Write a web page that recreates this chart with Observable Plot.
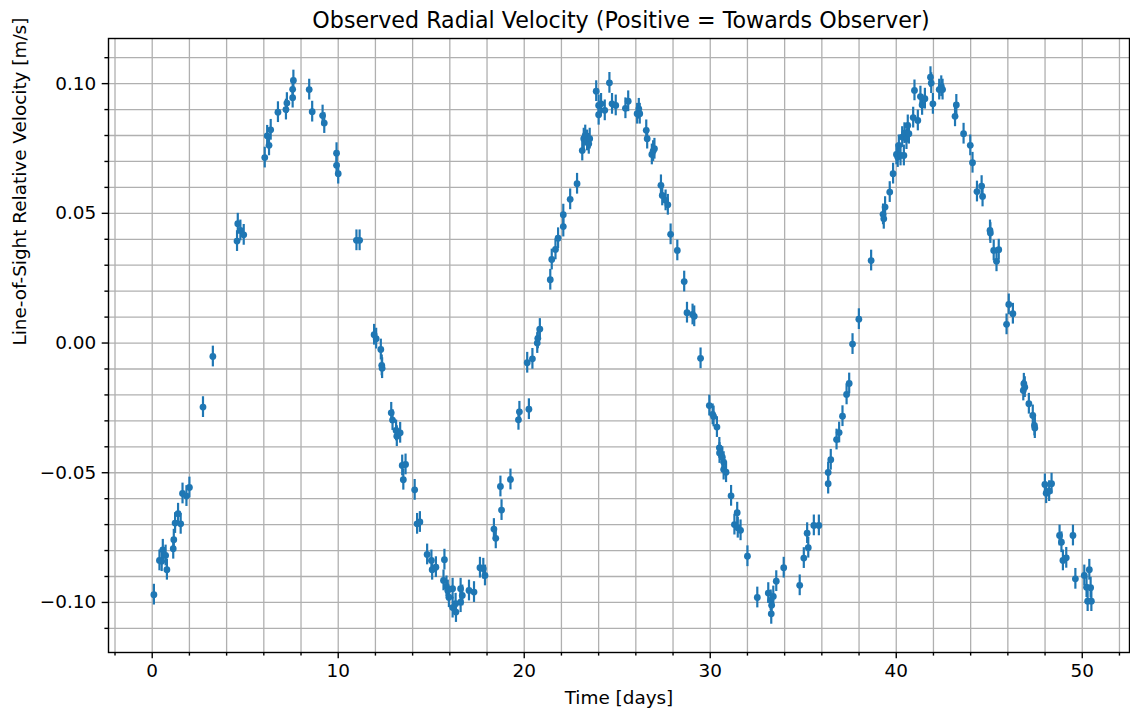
<!DOCTYPE html>
<html><head><meta charset="utf-8">
<script src="https://cdn.jsdelivr.net/npm/d3@7"></script>
<script src="https://cdn.jsdelivr.net/npm/@observablehq/plot@0.6"></script>
<style>
body{margin:0;background:#fff;font-family:"DejaVu Sans",sans-serif;}
#title{width:1130px;height:30px;box-sizing:border-box;padding:8px 0 0 112px;font-size:22.2px;line-height:24px;text-align:center;color:#000;white-space:nowrap;overflow:visible}
</style></head><body>
<div id="title">Observed Radial Velocity (Positive = Towards Observer)</div>
<div id="chart"></div>
<script>
const days = [0.09,0.39,0.51,0.57,0.72,0.79,1.13,1.16,1.23,1.39,1.53,1.63,1.84,2.0,2.73,3.26,4.56,4.6,4.74,4.92,
6.05,6.18,6.28,6.37,6.76,7.19,7.24,7.55,7.55,7.59,8.44,8.6,9.16,9.25,9.91,9.91,10.0,10.98,11.15,
11.93,12.04,12.29,12.34,12.36,12.85,12.92,13.11,13.15,13.33,13.44,13.5,13.62,14.11,14.24,14.39,14.78,15.01,15.05,15.25,
15.66,15.71,15.82,15.89,15.95,16.15,16.15,16.31,16.33,16.58,16.58,16.67,17.03,17.3,17.62,17.8,17.89,18.37,18.47,18.72,18.78,
19.26,19.69,19.74,20.16,20.25,20.44,20.7,20.73,20.84,21.4,21.48,21.68,21.82,22.1,22.1,22.47,22.84,
23.12,23.2,23.28,23.38,23.47,23.52,23.87,24.0,24.0,24.13,24.33,24.58,24.72,24.92,25.44,25.59,26.07,26.16,26.21,26.56,26.61,
26.86,26.93,27.0,27.35,27.42,27.6,27.72,27.87,28.23,28.6,28.75,29.05,29.14,29.48,29.95,30.13,30.18,30.36,30.49,30.5,30.65,
30.72,30.72,30.85,31.12,31.3,31.45,31.48,31.63,32.0,32.53,33.12,33.25,33.28,33.3,33.39,33.55,33.95,34.81,35.03,35.21,35.27,
35.57,35.84,36.34,36.34,36.48,36.79,36.93,37.11,37.33,37.47,37.65,37.99,38.65,39.29,39.33,39.4,39.65,39.83,40.01,40.08,
40.14,40.23,40.32,40.41,40.44,40.55,40.62,40.68,40.91,40.98,41.16,41.3,41.39,41.54,41.84,41.88,41.97,42.31,42.42,42.49,
43.16,43.23,43.62,43.98,44.1,44.34,44.59,44.64,45.04,45.06,45.24,45.39,45.51,45.93,46.05,46.27,46.83,46.86,46.91,47.13,
47.34,47.43,47.45,47.99,48.06,48.22,48.35,48.78,48.88,48.96,49.14,49.5,49.63,50.11,50.23,50.29,50.38,50.45,50.49];
const velocities = [-0.097,-0.0838,-0.0841,-0.0797,-0.0819,-0.0874,-0.0793,-0.0758,-0.0694,-0.0658,-0.0697,-0.058,-0.059,-0.0557,-0.0247,-0.0052,0.0393,0.046,0.0434,0.0417,
0.0715,0.0799,0.0762,0.0822,0.089,0.090,0.0925,0.0946,0.0978,0.1012,0.0977,0.0892,0.0877,0.0848,0.0732,0.0685,0.0653,0.0396,0.0396,
0.0032,0.0017,-0.0025,-0.0086,-0.0097,-0.0269,-0.0297,-0.0337,-0.0359,-0.0346,-0.0472,-0.0527,-0.0468,-0.0566,-0.0697,-0.069,-0.0815,-0.0838,-0.0874,-0.0864,
-0.0915,-0.0835,-0.0938,-0.0954,-0.098,-0.0947,-0.102,-0.1005,-0.1037,-0.0947,-0.0999,-0.0973,-0.0954,-0.096,-0.0866,-0.087,-0.0896,-0.0717,-0.0753,-0.0553,-0.0644,
-0.0526,-0.0296,-0.0265,-0.0076,-0.0255,-0.0061,0.0,0.0018,0.0054,0.0244,0.0322,0.0361,0.0404,0.0449,0.0495,0.0554,0.0614,
0.0742,0.0788,0.08,0.0781,0.0768,0.0788,0.0971,0.0916,0.088,0.0922,0.0897,0.1003,0.0922,0.0916,0.0905,0.0932,0.0884,0.0903,0.0884,0.082,0.0788,
0.0727,0.074,0.0749,0.0608,0.0569,0.055,0.0533,0.0419,0.0357,0.0237,0.0117,0.011,0.0103,-0.0059,-0.0241,-0.0275,-0.0283,-0.0324,-0.0404,-0.0424,-0.044,
-0.0459,-0.0488,-0.0498,-0.0589,-0.07,-0.0654,-0.0712,-0.0722,-0.0822,-0.0981,-0.0964,-0.0992,-0.1044,-0.1011,-0.0977,-0.0918,-0.0866,-0.0934,-0.0829,-0.0733,-0.0789,
-0.0703,-0.0703,-0.0542,-0.0499,-0.045,-0.0372,-0.0345,-0.0282,-0.0198,-0.0156,-0.0004,0.0092,0.0318,0.0496,0.0479,0.0524,0.0582,0.0653,0.0727,0.0717,
0.0762,0.0723,0.0794,0.0723,0.0809,0.0786,0.0839,0.0807,0.0869,0.0974,0.0858,0.095,0.0918,0.0942,0.1025,0.1002,0.0922,0.0977,0.099,0.0977,
0.0874,0.0918,0.0807,0.0762,0.0695,0.0584,0.0605,0.0565,0.0434,0.0424,0.0357,0.0315,0.036,0.0072,0.0149,0.0113,-0.0183,-0.0157,-0.017,-0.0234,
-0.0279,-0.0318,-0.0328,-0.0545,-0.0579,-0.0571,-0.0542,-0.0742,-0.0768,-0.0838,-0.0828,-0.0742,-0.0909,-0.0896,-0.0941,-0.0995,-0.0874,-0.0943,-0.0995];
const velocityError = 0.004;
const xTicks = [0, 10, 20, 30, 40, 50];
const yTicks = [-0.10, -0.05, 0.00, 0.05, 0.10];
const titleText = "Observed Radial Velocity (Positive = Towards Observer)";
const xLabel = "Time [days]";
const yLabel = "Line-of-Sight Relative Velocity [m/s]";

const data = days.map((t, i) => ({t, v: velocities[i], e: velocityError}));
const xGrid = d3.range(-2, 53, 2);
const yGrid = d3.range(-11, 12).map(i => i / 100);
const xMinor = xGrid.filter(d => d % 10 !== 0);
const yMinor = d3.range(-11, 12).filter(i => i % 5 !== 0).map(i => i / 100);
const blue = "#1f77b4";
const fmtY = d3.format(".2f");

const chart = Plot.plot({
  width: 1130, height: 682,
  marginLeft: 108, marginRight: 1, marginTop: 8, marginBottom: 60,
  x: {domain: [-2.35, 52.54]},
  y: {domain: [-0.1193, 0.1174]},
  style: {fontFamily: "DejaVu Sans", fontSize: "18.4px", color: "black", background: "white", overflow: "visible"},
  marks: [
    Plot.ruleX(xGrid, {x: d => d, stroke: "#b0b0b0", strokeWidth: 1.3}),
    Plot.ruleY(yGrid, {y: d => d, stroke: "#b0b0b0", strokeWidth: 1.3}),
    Plot.ruleX(data, {x: "t", y1: d => d.v - d.e, y2: d => d.v + d.e, stroke: blue, strokeWidth: 2.2}),
    Plot.dot(data, {x: "t", y: "v", r: 3.4, fill: blue, stroke: "none"}),
    Plot.frame({stroke: "black", strokeWidth: 1.4}),
    Plot.axisX(xTicks, {tickSize: 6.3, tickPadding: 5, strokeWidth: 1.4, label: null, tickFormat: d => String(d)}),
    Plot.axisX(xMinor, {tickSize: 3.6, strokeWidth: 1.4, label: null, tickFormat: () => ""}),
    Plot.axisY(yTicks, {tickSize: 6.3, tickPadding: 6, strokeWidth: 1.4, label: null, tickFormat: d => fmtY(d)}),
    Plot.axisY(yMinor, {tickSize: 3.6, strokeWidth: 1.4, label: null, tickFormat: () => ""}),
    Plot.text([xLabel], {frameAnchor: "bottom", dy: 51, fontSize: 18.4}),
    Plot.text([yLabel], {frameAnchor: "left", rotate: -90, dx: -88, fontSize: 18.4})
  ]
});
document.getElementById("title").textContent = titleText;
document.getElementById("chart").appendChild(chart);
</script>
</body></html>
